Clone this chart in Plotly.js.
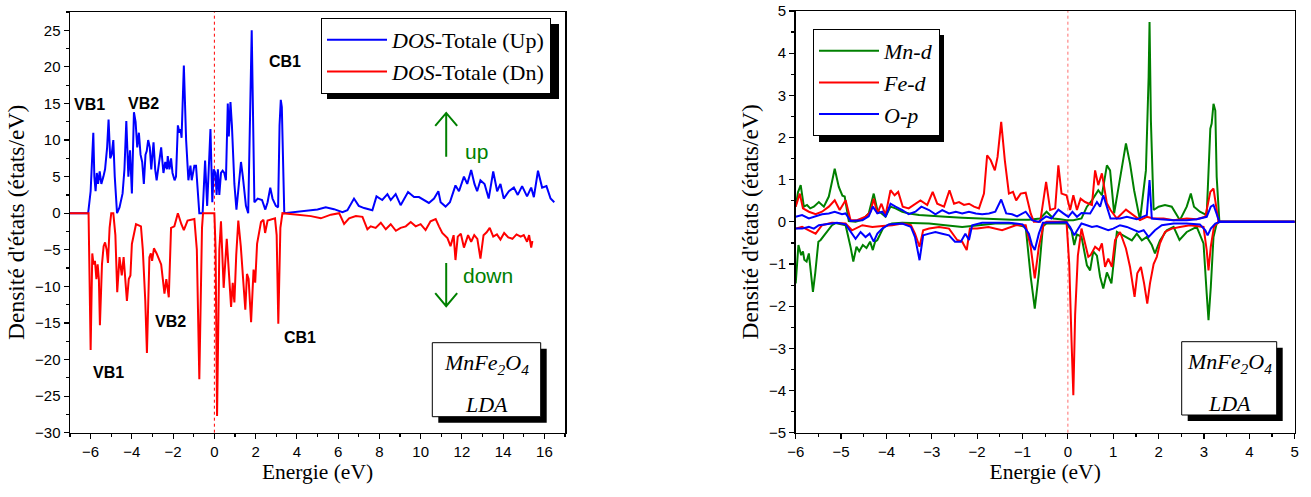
<!DOCTYPE html>
<html>
<head>
<meta charset="utf-8">
<script src="https://cdn.plot.ly/plotly-3.0.1.min.js"></script>
<style>html,body{margin:0;padding:0;background:#fff}#chart{width:1311px;height:497px}</style>
</head>
<body>
<div id="chart"></div>
<script>
// ---------- Left panel: total DOS ----------
const totUpE = [-7,-6.12,-6.0,-5.87,-5.82,-5.76,-5.7,-5.64,-5.56,-5.48,-5.38,-5.3,-5.2,-5.13,-5.05,-4.98,-4.9,-4.83,-4.72,-4.6,-4.45,-4.36,-4.27,-4.17,-4.09,-4.0,-3.9,-3.82,-3.74,-3.66,-3.58,-3.5,-3.42,-3.34,-3.28,-3.21,-3.13,-3.06,-2.95,-2.87,-2.8,-2.72,-2.58,-2.47,-2.38,-2.3,-2.26,-2.18,-2.1,-2.03,-1.93,-1.86,-1.77,-1.69,-1.64,-1.59,-1.48,-1.37,-1.26,-1.16,-1.1,-0.97,-0.89,-0.73,-0.57,-0.45,-0.35,-0.19,-0.10,-0.03,0.05,0.11,0.17,0.24,0.32,0.4,0.48,0.56,0.65,0.7,0.78,0.85,0.97,1.07,1.29,1.38,1.53,1.64,1.81,1.94,2.1,2.31,2.47,2.58,2.71,2.82,2.98,3.09,3.16,3.22,3.27,3.39,4.2,5.0,5.4,5.8,6.21,6.45,6.77,7.0,7.26,7.66,7.86,8.14,8.39,8.55,8.79,9.03,9.39,9.68,9.92,10.2,10.4,10.65,10.86,10.97,11.21,11.42,11.69,11.86,12.1,12.26,12.45,12.61,12.74,12.9,13.1,13.3,13.52,13.71,13.87,14.03,14.28,14.52,14.71,14.92,15.16,15.36,15.49,15.69,15.89,16.1,16.3,16.48];
const totUp = [0,0,3,11,5,3,5.5,4,5.7,4,5,6,9,12.8,7.5,8,10,5,0,0.8,2.7,6,12.6,5,8.6,2.7,13.8,12.5,9,11,8,7,4,8,8.5,10,9,6,9.7,6,4.5,6,9,5.5,7,6,7.8,6,7.5,5.5,4.5,5,12,11,11.5,10.3,20.2,10,4.5,6.5,4.5,6.5,6.5,0,0,7.2,1,11.5,1.5,6,5.5,2.5,6,2.5,5.5,5.8,5.5,4.5,15,10.5,15.2,12,4,0.5,7,5,1,0,25,1.5,2,1.8,0.5,1.5,3.5,2,1,0.8,12,15.5,14.5,0,0.2,0.5,0.8,0.55,0.15,0.4,2.0,1,0.7,0.4,2.3,1.8,2.6,1.8,2.6,1.1,2.9,2.2,2.2,1.8,1.4,2.0,3.0,1.5,0.9,1.5,3.8,3.0,5.0,4.0,5.9,4.0,3.0,4.5,4.0,2.0,5.7,3,4,2,3,3.5,2.5,3.7,2.3,3.5,2.2,5.8,3.5,3.7,2,1.5];

const totDnE = [-7,-6.1,-6.0,-5.92,-5.86,-5.79,-5.72,-5.66,-5.6,-5.55,-5.45,-5.37,-5.3,-5.22,-5.16,-5.08,-5.0,-4.9,-4.8,-4.71,-4.6,-4.49,-4.4,-4.24,-4.15,-4.07,-4.0,-3.87,-3.8,-3.56,-3.47,-3.35,-3.27,-3.15,-3.08,-3.02,-2.93,-2.8,-2.65,-2.58,-2.42,-2.33,-2.21,-2.1,-1.94,-1.77,-1.6,-1.48,-1.3,-0.97,-0.85,-0.73,-0.6,-0.55,0.0,0.06,0.13,0.24,0.32,0.45,0.6,0.69,0.81,0.89,0.97,1.06,1.16,1.28,1.41,1.5,1.58,1.66,1.78,1.9,1.98,2.07,2.26,2.38,2.46,2.58,2.94,3.02,3.1,3.2,3.3,4.19,4.68,5.16,5.65,6.05,6.29,6.53,6.86,7.18,7.42,7.58,7.82,8.07,8.31,8.55,8.8,9.03,9.28,9.52,9.76,10.0,10.24,10.48,10.73,10.89,11.05,11.3,11.45,11.6,11.69,11.8,11.95,12.1,12.3,12.45,12.6,12.75,12.9,13.05,13.2,13.35,13.52,13.7,13.87,14.05,14.25,14.45,14.65,14.85,15.0,15.16,15.26,15.36,15.42];
const totDn = [0,0,-18.7,-5.5,-7,-6.5,-9,-7,-9,-15.3,-7,-4.5,-4,-5,-6.8,-2,0,0,-3,-10.8,-6,-8.5,-6,-12,-9,-8.5,-4.2,-2.2,-1.5,-1.8,-5,-12,-19.1,-6,-5.5,-6.5,-4.8,-5.5,-6.5,-7,-11,-9,-11.5,-2,-1.8,0,-1.5,-2.3,-1,-0.8,-5,-22.7,-2,0,0,-5,-27.7,-5,-1.1,-10.2,-3.5,-7.8,-12.8,-9.5,-12.2,-5.7,-1,-4.5,-9.5,-13.2,-8.3,-9,-14.9,-7.7,-9.5,-4.2,-1.2,-0.9,-2.7,-1,-0.7,-3,-15.1,-2,0,-0.23,-0.4,-0.7,-0.2,0,-1.46,-0.7,-0.4,-0.5,-2.2,-1.8,-2.0,-1.3,-2.2,-1.5,-2.4,-2.0,-1.8,-1.2,-1.8,-1.5,-2.3,-1.1,-0.8,-1.8,-2.7,-3.4,-4.5,-3,-6.4,-3.2,-2.8,-4.7,-3.0,-3.9,-3.0,-3.5,-6.2,-3.0,-2.6,-2.0,-3.2,-2.9,-3.6,-2.7,-3.3,-3.5,-2.9,-3.2,-3.0,-3.9,-3.0,-4.7,-3.8];

// ---------- Right panel: partial DOS ----------
const mnUpE = [-6.0,-5.95,-5.89,-5.82,-5.75,-5.68,-5.6,-5.49,-5.38,-5.27,-5.2,-5.14,-5.05,-4.97,-4.92,-4.83,-4.68,-4.53,-4.39,-4.28,-4.2,-4.11,-4.02,-3.91,-3.8,-3.65,-3.5,-3.28,-3.06,-2.7,-2.33,-1.96,-1.6,-1.23,-0.86,-0.61,-0.47,-0.32,-0.17,-0.03,0.12,0.3,0.42,0.53,0.67,0.75,0.86,0.93,1.02,1.11,1.28,1.37,1.46,1.59,1.72,1.78,1.8,1.83,1.89,2.0,2.14,2.29,2.47,2.62,2.71,2.78,2.91,3.06,3.14,3.17,3.21,3.25,3.28,3.34,5];
const mnUp = [0.36,0.7,0.87,0.36,0.4,0.32,0.36,0.47,0.36,0.6,0.95,1.26,0.83,0.62,0.6,0.02,0,0.05,0.2,0.67,0.28,0.2,0.12,0.36,0.32,0.24,0.2,0.16,0.14,0.12,0.1,0.08,0.06,0.05,0.05,0.08,0.24,0.08,0.06,0.04,0.04,0.08,0.36,0.51,0.75,0.63,1.34,1.22,0.2,0.75,1.86,1.38,0.75,0.04,1.22,3.44,4.74,2.4,0.28,0.36,0.4,0.36,0.04,0.36,0.67,0.36,0.24,0.16,2.21,2.33,2.8,2.64,1.07,0,0];
const mnDnE = [-6.0,-5.94,-5.88,-5.84,-5.81,-5.76,-5.71,-5.62,-5.57,-5.5,-5.45,-5.34,-5.2,-5.12,-4.9,-4.79,-4.73,-4.66,-4.6,-4.52,-4.44,-4.36,-4.3,-4.25,-4.2,-4.06,-3.88,-3.65,-3.06,-2.7,-2.33,-1.96,-1.6,-1.23,-0.93,-0.82,-0.73,-0.64,-0.55,-0.47,-0.03,0.08,0.14,0.2,0.3,0.42,0.49,0.56,0.64,0.71,0.78,0.86,0.96,1.08,1.26,1.41,1.52,1.63,1.74,1.85,1.92,2.03,2.18,2.33,2.46,2.62,2.84,2.99,3.06,3.1,3.15,3.21,3.28,3.34,5];
const mnDn = [-1.46,-0.55,-0.79,-0.7,-0.9,-0.94,-0.75,-1.66,-1.22,-0.47,-0.43,-0.28,-0.08,-0.03,-0.08,-0.6,-0.94,-0.59,-0.7,-0.55,-0.62,-0.47,-0.67,-0.47,-0.43,-0.12,-0.04,-0.02,-0.04,-0.08,-0.12,-0.08,-0.04,-0.04,-0.12,-1.3,-2.06,-1.22,-0.1,-0.04,-0.04,-0.2,-0.55,-0.3,-0.35,-1.03,-1.15,-0.7,-0.8,-1.3,-1.58,-1.2,-1.46,-0.24,-0.36,-0.44,-0.28,-0.44,-0.36,-0.55,-0.75,-0.44,-0.2,-0.12,-0.43,-0.24,-0.12,-0.51,-1.7,-2.33,-1.55,-0.36,-0.04,0,0];
const feUpE = [-6.0,-5.91,-5.84,-5.71,-5.56,-5.42,-5.27,-5.14,-5.03,-4.9,-4.79,-4.65,-4.46,-4.35,-4.28,-4.2,-4.11,-4.02,-3.91,-3.82,-3.74,-3.64,-3.51,-3.36,-3.25,-3.1,-2.98,-2.88,-2.73,-2.61,-2.51,-2.4,-2.29,-2.18,-2.07,-1.96,-1.85,-1.78,-1.7,-1.61,-1.55,-1.47,-1.39,-1.3,-1.21,-1.14,-1.04,-0.93,-0.82,-0.75,-0.61,-0.48,-0.39,-0.28,-0.21,-0.14,-0.03,0.05,0.12,0.2,0.28,0.38,0.53,0.6,0.67,0.75,0.86,0.94,1.08,1.28,1.45,1.59,1.74,1.89,2.11,2.33,2.62,2.84,3.03,3.14,3.21,3.27,3.32,5];
const feUp = [0.36,0.67,0.32,0.24,0.18,0.24,0.36,0.51,0.28,0.51,0.04,0.04,0.12,0.24,0.55,0.2,0.43,0.16,0.75,0.63,0.71,0.36,0.32,0.43,0.51,0.4,0.71,0.43,0.36,0.75,0.43,0.47,0.4,0.43,0.36,0.32,0.67,1.58,1.46,1.22,1.54,2.37,1.46,0.67,0.71,0.51,0.67,0.69,0.2,0,0,0.95,0.28,0.32,1.34,0.67,0.63,0.28,0.63,0.28,0.55,0.47,0.4,1.22,0.87,1.15,0.44,0.28,0.08,0.29,0.16,0.04,0.12,0.08,0.08,0.04,0.08,0.06,0.12,0.71,0.79,0.36,0,0];
const feDnE = [-6.0,-5.86,-5.71,-5.56,-5.42,-5.2,-4.9,-4.76,-4.53,-4.31,-4.09,-3.87,-3.65,-3.46,-3.37,-3.27,-3.19,-3.06,-2.84,-2.62,-2.44,-2.33,-2.23,-2.16,-2.0,-1.75,-1.45,-1.15,-0.93,-0.82,-0.73,-0.64,-0.53,-0.47,-0.03,0.03,0.08,0.12,0.16,0.22,0.3,0.38,0.45,0.5,0.6,0.69,0.75,0.82,0.89,0.97,1.04,1.15,1.28,1.37,1.47,1.53,1.61,1.68,1.75,1.81,1.89,1.96,2.03,2.14,2.29,2.47,2.69,2.99,3.06,3.1,3.15,3.22,3.32,5];
const feDn = [-0.16,-0.12,-0.2,-0.28,-0.08,-0.02,-0.04,-0.2,-0.08,-0.12,-0.1,-0.08,-0.04,-0.08,-0.28,-0.59,-0.2,-0.16,-0.12,-0.16,-0.43,-0.47,-0.67,-0.16,-0.16,-0.12,-0.2,-0.08,-0.08,-0.59,-1.34,-0.59,-0.04,0,0,-1.0,-2.8,-4.11,-2.2,-0.8,-0.16,-0.51,-0.83,-0.79,-0.59,-0.67,-0.51,-1.07,-0.87,-1.07,-0.43,-0.24,-0.63,-1.07,-1.78,-1.22,-1.07,-1.46,-1.94,-1.46,-1.0,-0.83,-0.51,-0.24,-0.16,-0.12,-0.08,-0.12,-0.67,-1.15,-0.59,-0.12,0,0];
const opUpE = [-6.0,-5.86,-5.71,-5.56,-5.42,-5.27,-5.14,-4.98,-4.9,-4.79,-4.53,-4.39,-4.3,-4.2,-4.09,-4.02,-3.91,-3.8,-3.65,-3.51,-3.36,-3.23,-3.06,-2.92,-2.77,-2.62,-2.47,-2.33,-2.18,-2.03,-1.89,-1.74,-1.6,-1.47,-1.36,-1.23,-1.12,-0.93,-0.79,-0.64,-0.48,-0.36,-0.21,-0.1,0.01,0.1,0.2,0.3,0.49,0.64,0.71,0.78,0.86,0.94,1.15,1.3,1.52,1.74,1.8,1.85,2.03,2.33,2.62,2.84,3.06,3.15,3.21,3.28,3.34,5];
const opUp = [0.12,0.16,0.08,0.13,0.18,0.2,0.24,0.18,0.2,0.02,0.04,0.13,0.36,0.2,0.24,0.12,0.43,0.36,0.28,0.18,0.24,0.36,0.28,0.18,0.28,0.2,0.24,0.2,0.24,0.2,0.18,0.2,0.24,0.53,0.2,0.18,0.13,0.24,0.04,0,0.13,0.08,0.29,0.2,0.12,0.24,0.12,0.21,0.2,0.47,0.36,0.63,0.36,0.08,0.08,0.12,0.06,0.16,0.99,0.08,0.06,0.04,0.04,0.06,0.12,0.36,0.4,0.2,0,0];
const opDnE = [-6.0,-5.86,-5.71,-5.6,-5.49,-5.27,-5.09,-4.9,-4.77,-4.68,-4.57,-4.46,-4.37,-4.28,-4.2,-4.09,-3.95,-3.65,-3.46,-3.37,-3.27,-3.19,-3.06,-2.92,-2.77,-2.62,-2.49,-2.36,-2.26,-2.18,-2.11,-1.89,-1.3,-1.0,-0.86,-0.79,-0.73,-0.64,-0.55,-0.03,0.05,0.14,0.23,0.3,0.42,0.53,0.64,0.78,0.89,1.0,1.15,1.3,1.45,1.56,1.67,1.78,1.92,2.07,2.33,2.62,2.91,3.03,3.08,3.15,3.25,3.36,5];
const opDn = [-0.16,-0.16,-0.12,-0.16,-0.08,-0.04,-0.02,-0.06,-0.28,-0.4,-0.24,-0.36,-0.28,-0.47,-0.28,-0.16,-0.06,-0.04,-0.12,-0.36,-0.91,-0.32,-0.28,-0.24,-0.28,-0.32,-0.47,-0.47,-0.28,-0.43,-0.08,-0.02,-0.02,-0.06,-0.28,-0.55,-0.67,-0.28,-0.02,-0.01,-0.12,-0.32,-0.16,-0.04,-0.08,-0.12,-0.1,-0.16,-0.2,-0.16,-0.08,-0.12,-0.2,-0.24,-0.2,-0.36,-0.2,-0.08,-0.04,-0.04,-0.06,-0.2,-0.32,-0.16,-0.04,0,0];

const fermiE = 0;

// ---------- layout helpers (pixel -> paper) ----------
const W = 1311, H = 497;
const px = x => x / W;
const py = y => 1 - y / H;

const SERIF = 'Liberation Serif, Times New Roman, serif';
const SANS = 'Liberation Sans, Arial, sans-serif';
const GREEN = '#008000';

const lw = 2;
const traces = [
  {x: totUpE, y: totUp, type: 'scatter', mode: 'lines', line: {color: '#0000ff', width: lw},
   name: '<i>DOS</i>-Totale (Up)', xaxis: 'x', yaxis: 'y', legend: 'legend', legendgroup: 'a'},
  {x: totDnE, y: totDn, type: 'scatter', mode: 'lines', line: {color: '#ff0000', width: lw},
   name: '<i>DOS</i>-Totale (Dn)', xaxis: 'x', yaxis: 'y', legend: 'legend', legendgroup: 'b'},
  {x: mnUpE, y: mnUp, type: 'scatter', mode: 'lines', line: {color: GREEN, width: lw},
   name: '<i>Mn-d</i>', xaxis: 'x2', yaxis: 'y2', legend: 'legend2', legendgroup: 'c'},
  {x: mnDnE, y: mnDn, type: 'scatter', mode: 'lines', line: {color: GREEN, width: lw},
   showlegend: false, xaxis: 'x2', yaxis: 'y2', legendgroup: 'c'},
  {x: feUpE, y: feUp, type: 'scatter', mode: 'lines', line: {color: '#ff0000', width: lw},
   name: '<i>Fe-d</i>', xaxis: 'x2', yaxis: 'y2', legend: 'legend2', legendgroup: 'd'},
  {x: feDnE, y: feDn, type: 'scatter', mode: 'lines', line: {color: '#ff0000', width: lw},
   showlegend: false, xaxis: 'x2', yaxis: 'y2', legendgroup: 'd'},
  {x: opUpE, y: opUp, type: 'scatter', mode: 'lines', line: {color: '#0000ff', width: lw},
   name: '<i>O-p</i>', xaxis: 'x2', yaxis: 'y2', legend: 'legend2', legendgroup: 'e'},
  {x: opDnE, y: opDn, type: 'scatter', mode: 'lines', line: {color: '#0000ff', width: lw},
   showlegend: false, xaxis: 'x2', yaxis: 'y2', legendgroup: 'e'}
];

const tickFont = {family: SANS, size: 15, color: '#000'};
const titleFont = {family: SERIF, size: 21.5, color: '#000'};
const yTitleFont = {family: SERIF, size: 23.5, color: '#000'};
function mainAxis(extra) {
  return Object.assign({
    showgrid: false, zeroline: false, showline: true, linecolor: '#000', linewidth: 1.5,
    mirror: true, ticks: 'outside', ticklen: 5, tickwidth: 1.2, tickcolor: '#000',
    tickfont: tickFont, fixedrange: true
  }, extra);
}
function mirrorAxis(extra) {
  return Object.assign({
    showgrid: false, zeroline: false, showline: false, ticks: 'inside', ticklen: 4,
    tickwidth: 1.2, tickcolor: '#000', showticklabels: false, dtick: 1, tick0: 0, fixedrange: true
  }, extra);
}

const LD = [px(70), px(565)], LY = [py(432.7), py(12)];
const RD = [px(795.7), px(1294.7)], RY = [py(432.7), py(11)];

const layout = {
  width: W, height: H,
  margin: {l: 0, r: 0, t: 0, b: 0},
  paper_bgcolor: '#fff', plot_bgcolor: '#fff',
  showlegend: true,
  xaxis: mainAxis({domain: LD, anchor: 'y', range: [-7, 17], dtick: 2, tick0: 0,
    minor: {dtick: 1, tick0: 0, ticks: 'outside', ticklen: 3, tickcolor: '#000'},
    title: {text: 'Energie (eV)', font: titleFont, standoff: 2}}),
  yaxis: mainAxis({domain: LY, anchor: 'x', range: [-30, 27.5], dtick: 5, tick0: 0,
    minor: {dtick: 2.5, tick0: 0, ticks: 'outside', ticklen: 3, tickcolor: '#000'},
    title: {text: "Densité d'états (états/eV)", font: yTitleFont, standoff: 4}}),
  xaxis2: mainAxis({domain: RD, anchor: 'y2', range: [-6, 5], dtick: 1, tick0: 0,
    minor: {dtick: 0.5, tick0: 0, ticks: 'outside', ticklen: 3, tickcolor: '#000'},
    title: {text: 'Energie (eV)', font: titleFont, standoff: 2}}),
  yaxis2: mainAxis({domain: RY, anchor: 'x2', range: [-5, 5], dtick: 1, tick0: 0,
    minor: {dtick: 0.5, tick0: 0, ticks: 'outside', ticklen: 3, tickcolor: '#000'},
    title: {text: "Densité d'états (états/eV)", font: yTitleFont, standoff: 4}}),
  xaxis3: mirrorAxis({overlaying: 'x', side: 'top', anchor: 'y', range: [0, 10]}),
  yaxis3: mirrorAxis({overlaying: 'y', side: 'right', anchor: 'x', range: [-5, 5]}),
  xaxis4: mirrorAxis({overlaying: 'x2', side: 'top', anchor: 'y2', range: [0, 10]}),
  yaxis4: mirrorAxis({overlaying: 'y2', side: 'right', anchor: 'x2', range: [-5, 5]}),
  legend: {x: px(321), y: py(18), xanchor: 'left', yanchor: 'top', bgcolor: '#fff',
    bordercolor: '#000', borderwidth: 1, font: {family: SERIF, size: 22, color: '#000'},
    itemwidth: 60, traceorder: 'grouped', tracegroupgap: 0},
  legend2: {x: px(813), y: py(29), xanchor: 'left', yanchor: 'top', bgcolor: '#fff',
    bordercolor: '#000', borderwidth: 1, font: {family: SERIF, size: 22, color: '#000'},
    itemwidth: 60, traceorder: 'grouped', tracegroupgap: 0},
  shapes: [],
  annotations: []
};

// Fermi level markers
layout.shapes.push({type: 'line', xref: 'x', yref: 'y domain', x0: fermiE, x1: fermiE, y0: 0, y1: 1,
  line: {color: '#ff0000', width: 1, dash: 'dot'}, layer: 'below'});
layout.shapes.push({type: 'line', xref: 'x2', yref: 'y2 domain', x0: fermiE, x1: fermiE, y0: 0, y1: 1,
  line: {color: 'rgba(255,60,60,0.75)', width: 1, dash: 'dot'}, layer: 'below'});

// drop shadows (legends and formula boxes)
function shadowBox(x0, y0, x1, y1, off) {
  layout.shapes.push({type: 'rect', xref: 'paper', yref: 'paper',
    x0: px(x0 + off), x1: px(x1 + off), y0: py(y1 + off), y1: py(y0 + off),
    fillcolor: '#000', line: {width: 0}, layer: 'above'});
}
shadowBox(321, 18, 553, 93, 6);
shadowBox(813, 29, 938, 136, 6);

// formula boxes with shadows
function formulaBox(x0, y0, x1, y1) {
  shadowBox(x0, y0, x1, y1, 6);
  layout.shapes.push({type: 'rect', xref: 'paper', yref: 'paper',
    x0: px(x0), x1: px(x1), y0: py(y1), y1: py(y0),
    fillcolor: '#fff', line: {color: '#000', width: 1}, layer: 'above'});
  const cx = px((x0 + x1) / 2);
  layout.annotations.push({xref: 'paper', yref: 'paper', x: cx, y: py(y0 + 21), showarrow: false,
    xanchor: 'center', yanchor: 'middle',
    text: '<i>MnFe<sub>2</sub>O<sub>4</sub></i>', font: {family: SERIF, size: 22, color: '#000'}});
  layout.annotations.push({xref: 'paper', yref: 'paper', x: cx, y: py(y0 + 62), showarrow: false,
    xanchor: 'center', yanchor: 'middle',
    text: '<i>LDA</i>', font: {family: SERIF, size: 22, color: '#000'}});
}
formulaBox(432.3, 342.7, 540.7, 416.7);
formulaBox(1181.7, 341.7, 1276.7, 415);

// band labels on the total DOS panel
const bandLabels = ['VB1', 'VB2', 'CB1', 'VB1', 'VB2', 'CB1'];
const bandE = [-6.06, -3.45, 3.42, -5.14, -2.15, 4.14];
const bandD = [14.9, 15.0, 20.8, -21.8, -14.8, -17.05];
bandLabels.forEach((t, i) => layout.annotations.push({xref: 'x', yref: 'y', x: bandE[i], y: bandD[i],
  xanchor: 'center', yanchor: 'middle',
  text: '<b>' + t + '</b>', showarrow: false, font: {family: SANS, size: 16, color: '#000'}}));

// spin direction arrows
function arrowPath(e, dTail, dHead, dir) {
  const hw = 11 / 20.67, hh = 13 / 7.33 * dir;
  layout.shapes.push({type: 'path', xref: 'x', yref: 'y',
    path: `M${e},${dTail} L${e},${dHead} M${e - hw},${dHead - hh} L${e},${dHead} L${e + hw},${dHead - hh}`,
    line: {color: GREEN, width: 2}, layer: 'above'});
}
arrowPath(11.24, 7.7, 13.7, 1);
arrowPath(11.24, -6.8, -12.7, -1);
layout.annotations.push({xref: 'x', yref: 'y', x: 12.71, y: 8.4, text: 'up', showarrow: false,
  xanchor: 'center', yanchor: 'middle', font: {family: SANS, size: 21, color: GREEN}});
layout.annotations.push({xref: 'x', yref: 'y', x: 13.29, y: -8.55, text: 'down', showarrow: false,
  xanchor: 'center', yanchor: 'middle', font: {family: SANS, size: 21, color: GREEN}});

Plotly.newPlot('chart', traces, layout, {displayModeBar: false, staticPlot: true});
</script>
</body>
</html>
